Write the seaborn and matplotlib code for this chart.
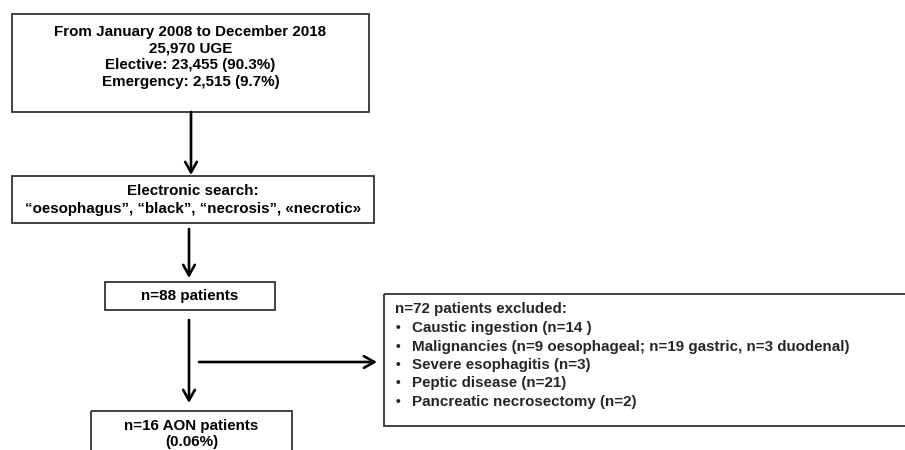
import matplotlib
matplotlib.use("Agg")
import matplotlib.pyplot as plt
import seaborn as sns
from matplotlib.patches import Rectangle

# ---- data ----
period = "From January 2008 to December 2018"
total_uge = "25,970"
elective_n, elective_pct = "23,455", "90.3%"
emergency_n, emergency_pct = "2,515", "9.7%"
search_terms = ["\u201coesophagus\u201d", "\u201cblack\u201d", "\u201cnecrosis\u201d", "\u00abnecrotic\u00bb"]
n_found = 88
n_excluded = 72
excl_reasons = ["Caustic ingestion (n=14 )",
                "Malignancies (n=9 oesophageal; n=19 gastric, n=3 duodenal)",
                "Severe esophagitis (n=3)",
                "Peptic disease (n=21)",
                "Pancreatic necrosectomy (n=2)"]
n_aon = 16
aon_pct = "0.06%"

sns.set_theme(style="white")
plt.rcParams['font.family'] = ['Liberation Sans', 'DejaVu Sans']

fig = plt.figure(figsize=(9.05, 4.5), dpi=100)
ax = fig.add_axes([0, 0, 1, 1])
ax.set_xlim(0, 905)
ax.set_ylim(450, 0)
ax.axis("off")

FS = 10.9
EC = "#333333"

def box(x0, y0, x1, y1):
    ax.add_patch(Rectangle((x0, y0), x1 - x0, y1 - y0, fill=False, ec=EC, lw=1.3, clip_on=False))

def arrow(x0, y0, x1, y1):
    ax.annotate("", xy=(x1, y1), xytext=(x0, y0),
                arrowprops=dict(arrowstyle="->,head_length=0.75,head_width=0.42",
                                lw=1.9, color="black", shrinkA=0, shrinkB=0,
                                mutation_scale=10))

def ctext(x, y, s):
    ax.text(x, y, s, ha="center", va="center", fontsize=FS, fontweight="bold", color="black")

# box 1
box(12, 14, 369, 112)
lines1 = [period, f"{total_uge} UGE", f"Elective: {elective_n} ({elective_pct})",
          f"Emergency: {emergency_n} ({emergency_pct})"]
for y, s in zip([32, 48.5, 65, 82], lines1):
    ctext(190.5, y, s)
arrow(191, 112, 191, 175)

# box 2
box(12, 176, 374, 223)
ctext(193, 191, "Electronic search:")
ctext(193, 209, ", ".join(search_terms))
arrow(189, 229, 189, 278)

# box 3
box(105, 282, 275, 310)
ctext(190, 296, f"n={n_found} patients")
arrow(189, 320, 189, 403)
arrow(199, 362, 377, 362)

# box 4
box(91, 411, 292, 470)
ctext(191.5, 426, f"n={n_aon} AON patients")
ctext(191.5, 442, f"({aon_pct})")

# exclusion box
box(384, 294, 920, 426)
ax.text(395, 309, f"n={n_excluded} patients excluded:", ha="left", va="center",
        fontsize=FS, fontweight="bold")
for i, r in enumerate(excl_reasons):
    y = 328 + i * 18.5
    ax.text(398, y, "\u2022", ha="center", va="center", fontsize=FS - 1, fontweight="bold")
    ax.text(412, y, r, ha="left", va="center", fontsize=FS, fontweight="bold")

fig.savefig("out.png", dpi=100)
